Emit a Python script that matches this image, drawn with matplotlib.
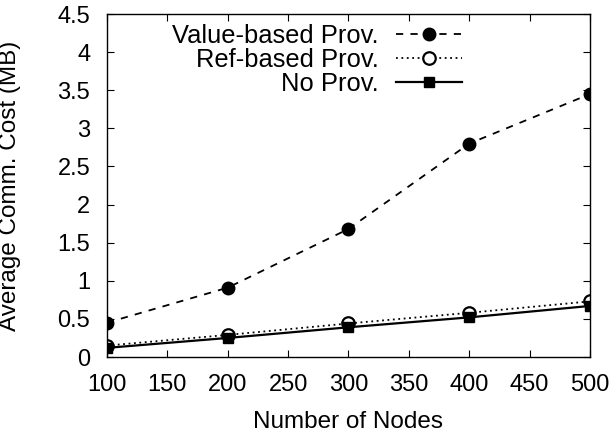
import matplotlib
matplotlib.use("Agg")
import matplotlib.pyplot as plt

plt.rcParams["font.family"] = ["Liberation Sans", "DejaVu Sans"]

# data
nodes = [100, 200, 300, 400, 500]
value_based = [0.45, 0.91, 1.68, 2.80, 3.45]
ref_based = [0.15, 0.29, 0.44, 0.58, 0.73]
no_prov = [0.12, 0.25, 0.39, 0.52, 0.67]

fig = plt.figure(figsize=(6.1, 4.42), dpi=100)
ax = fig.add_axes([0.1754, 0.1923, 0.7918, 0.776])

ax.plot(nodes, value_based, color="black", linestyle=(0, (4, 4)), linewidth=1.3,
        marker="o", markersize=9, label="Value-based Prov.")
ax.plot(nodes, ref_based, color="black", linestyle=(0, (1, 2)), linewidth=1.3,
        marker="o", markersize=9, markerfacecolor="white", markeredgewidth=1.6,
        label="Ref-based Prov.")
ax.plot(nodes, no_prov, color="black", linestyle="-", linewidth=1.6,
        marker="s", markersize=7.5, label="No Prov.")

ax.set_xlim(100, 500)
ax.set_ylim(0, 4.5)
ax.set_xticks(range(100, 501, 50))
ax.set_yticks([0, 0.5, 1, 1.5, 2, 2.5, 3, 3.5, 4, 4.5])
ax.set_yticklabels(["0", "0.5", "1", "1.5", "2", "2.5", "3", "3.5", "4", "4.5"])
ax.tick_params(direction="in", top=True, right=True, labelsize=17, length=5)
ax.tick_params(axis="x", pad=12)
ax.tick_params(axis="y", pad=12)
for s in ax.spines.values():
    s.set_linewidth(1.0)

ax.set_xlabel("Number of Nodes", fontsize=17.5, labelpad=11)
ax.set_ylabel("Average Comm. Cost (MB)", fontsize=17.5)
ax.yaxis.set_label_coords(-0.178, 0.5)

ax.legend(loc="upper right", bbox_to_anchor=(0.735, 0.972), frameon=False,
          markerfirst=False, fontsize=18.4, handlelength=2.6, labelspacing=0.0,
          handletextpad=0.65, borderaxespad=0, borderpad=0)

fig.savefig("out.png", dpi=100)
